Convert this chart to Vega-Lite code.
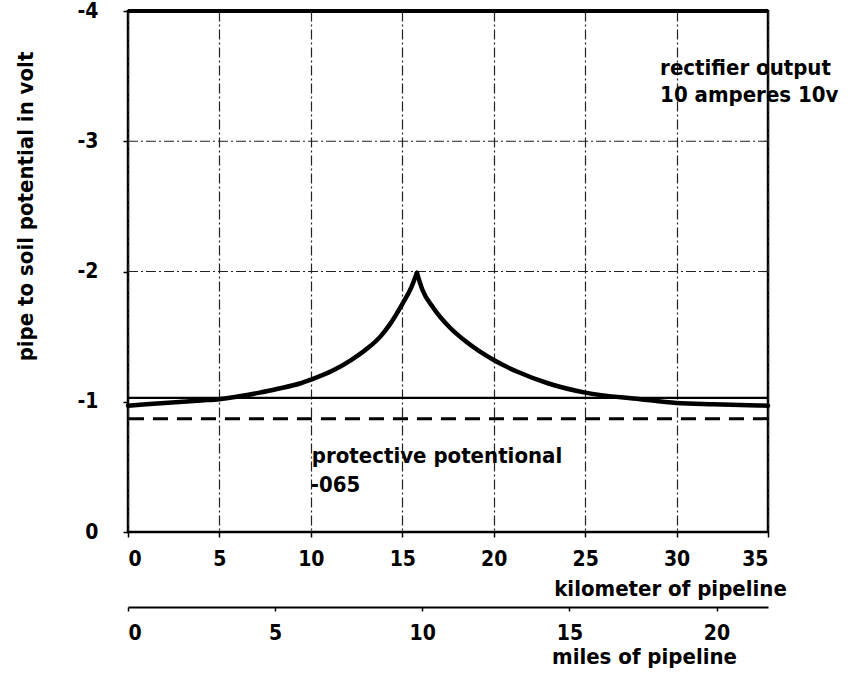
{
  "$schema": "https://vega.github.io/schema/vega-lite/v6.json",
  "width": 640,
  "height": 521,
  "autosize": "none",
  "padding": {"left": 128, "top": 11, "right": 84, "bottom": 143},
  "background": "white",
  "config": {
    "view": {"stroke": "black", "strokeWidth": 2.5},
    "font": "Liberation Sans Narrow, Arial Narrow, DejaVu Sans Condensed, sans-serif"
  },
  "datasets": {
    "curve": [
      {"km": 0, "v": -0.97, "branch": "west"},
      {"km": 2, "v": -0.99, "branch": "west"},
      {"km": 4, "v": -1.01, "branch": "west"},
      {"km": 5, "v": -1.02, "branch": "west"},
      {"km": 6, "v": -1.04, "branch": "west"},
      {"km": 7.2, "v": -1.07, "branch": "west"},
      {"km": 8.2, "v": -1.1, "branch": "west"},
      {"km": 9.4, "v": -1.14, "branch": "west"},
      {"km": 10, "v": -1.17, "branch": "west"},
      {"km": 11.2, "v": -1.24, "branch": "west"},
      {"km": 12.2, "v": -1.32, "branch": "west"},
      {"km": 13.1, "v": -1.41, "branch": "west"},
      {"km": 13.8, "v": -1.5, "branch": "west"},
      {"km": 14.3, "v": -1.59, "branch": "west"},
      {"km": 15.0, "v": -1.75, "branch": "west"},
      {"km": 15.5, "v": -1.88, "branch": "west"},
      {"km": 15.8, "v": -1.99, "branch": "west"},
      {"km": 15.8, "v": -1.99, "branch": "east"},
      {"km": 16.1, "v": -1.86, "branch": "east"},
      {"km": 16.7, "v": -1.72, "branch": "east"},
      {"km": 17.6, "v": -1.57, "branch": "east"},
      {"km": 18.5, "v": -1.46, "branch": "east"},
      {"km": 20, "v": -1.32, "branch": "east"},
      {"km": 21.3, "v": -1.23, "branch": "east"},
      {"km": 23, "v": -1.14, "branch": "east"},
      {"km": 25, "v": -1.07, "branch": "east"},
      {"km": 28, "v": -1.02, "branch": "east"},
      {"km": 30, "v": -0.99, "branch": "east"},
      {"km": 32, "v": -0.98, "branch": "east"},
      {"km": 35, "v": -0.97, "branch": "east"}
    ],
    "hgrid": [{"v": -3}, {"v": -2}],
    "solidLevel": [{"v": -1.03}],
    "dashedLevel": [{"v": -0.87}],
    "topEdge": [{"v": -4}],
    "notes": [
      {"km": 29.1, "v": -3.51, "label": "rectifier output"},
      {"km": 29.1, "v": -3.3, "label": "10 amperes 10v"},
      {"km": 10.05, "v": -0.53, "label": "protective potentional"},
      {"km": 10.0, "v": -0.307, "label": "-065"}
    ],
    "miles": [{"mi": 0}, {"mi": 21.75}]
  },
  "layer": [
    {
      "layer": [
        {
          "data": {"name": "hgrid"},
          "mark": {"type": "rule", "color": "#222", "strokeWidth": 1.2, "strokeDash": [10, 3, 2, 3]},
          "encoding": {
            "y": {"field": "v", "type": "quantitative", "scale": {"domain": [0, -4]}}
          }
        },
        {
          "data": {"name": "topEdge"},
          "mark": {"type": "rule", "color": "black", "strokeWidth": 4},
          "encoding": {"y": {"field": "v", "type": "quantitative"}}
        },
        {
          "data": {"name": "solidLevel"},
          "mark": {"type": "rule", "color": "black", "strokeWidth": 2.2},
          "encoding": {"y": {"field": "v", "type": "quantitative"}}
        },
        {
          "data": {"name": "dashedLevel"},
          "mark": {"type": "rule", "color": "black", "strokeWidth": 3, "strokeDash": [15, 9]},
          "encoding": {"y": {"field": "v", "type": "quantitative"}}
        },
        {
          "data": {"name": "curve"},
          "mark": {"type": "line", "color": "black", "strokeWidth": 4.5, "interpolate": "monotone", "strokeCap": "round"},
          "encoding": {
            "detail": {"field": "branch", "type": "nominal"},
            "x": {
              "field": "km",
              "type": "quantitative",
              "scale": {"domain": [0, 35], "nice": false, "zero": false},
              "axis": {
                "values": [0, 5, 10, 15, 20, 25, 30, 35],
                "grid": true,
                "gridDash": [10, 3, 2, 3],
                "gridColor": "#222",
                "gridWidth": 1.2,
                "domain": false,
                "ticks": true,
                "tickSize": 5,
                "tickColor": "black",
                "tickWidth": 1.5,
                "labelPadding": 11,
                "labelBaseline": "top",
                "labelFontSize": 21,
                "labelFontWeight": "bold",
                "labelColor": "black",
                "labelDx": -6,
                "title": "kilometer of pipeline",
                "titleX": 542,
                "titleY": 63,
                "titleAlign": "center",
                "titleBaseline": "alphabetic",
                "titleFontSize": 22,
                "titleFontWeight": "bold",
                "titleColor": "black"
              }
            },
            "y": {
              "field": "v",
              "type": "quantitative",
              "scale": {"domain": [0, -4]},
              "axis": {
                "values": [-4, -3, -2, -1, 0],
                "grid": false,
                "domain": false,
                "ticks": true,
                "tickSize": 5,
                "tickColor": "black",
                "tickWidth": 1.5,
                "labelPadding": 25,
                "labelFontSize": 21,
                "labelFontWeight": "bold",
                "labelColor": "black",
                "labelExpr": "datum.value < 0 ? '-' + abs(datum.value) : '0'",
                "title": "pipe to soil potential in volt",
                "titleX": -96,
                "titleY": 195,
                "titleAngle": -90,
                "titleAlign": "center",
                "titleBaseline": "alphabetic",
                "titleFontSize": 22,
                "titleFontWeight": "bold",
                "titleColor": "black"
              }
            }
          }
        },
        {
          "data": {"name": "notes"},
          "mark": {"type": "text", "align": "left", "baseline": "alphabetic", "fontSize": 22, "fontWeight": "bold", "color": "black"},
          "encoding": {
            "x": {"field": "km", "type": "quantitative"},
            "y": {"field": "v", "type": "quantitative"},
            "text": {"field": "label", "type": "nominal"}
          }
        }
      ]
    },
    {
      "data": {"name": "miles"},
      "mark": {"type": "point", "opacity": 0},
      "encoding": {
        "x": {
          "field": "mi",
          "type": "quantitative",
          "scale": {"domain": [0, 21.75], "nice": false, "zero": false},
          "axis": {
            "orient": "bottom",
            "offset": 75,
            "values": [0, 5, 10, 15, 20],
            "grid": false,
            "domain": true,
            "domainColor": "black",
            "domainWidth": 2,
            "ticks": true,
            "tickSize": 4,
            "tickColor": "black",
            "tickWidth": 1.5,
            "labelPadding": 11,
            "labelBaseline": "top",
            "labelFontSize": 21,
            "labelFontWeight": "bold",
            "labelColor": "black",
            "title": "miles of pipeline",
            "titleX": 516,
            "titleY": 56,
            "titleAlign": "center",
            "titleBaseline": "alphabetic",
            "titleFontSize": 22,
            "titleFontWeight": "bold",
            "titleColor": "black"
          }
        }
      }
    }
  ],
  "resolve": {"scale": {"x": "independent"}, "axis": {"x": "independent"}}
}
